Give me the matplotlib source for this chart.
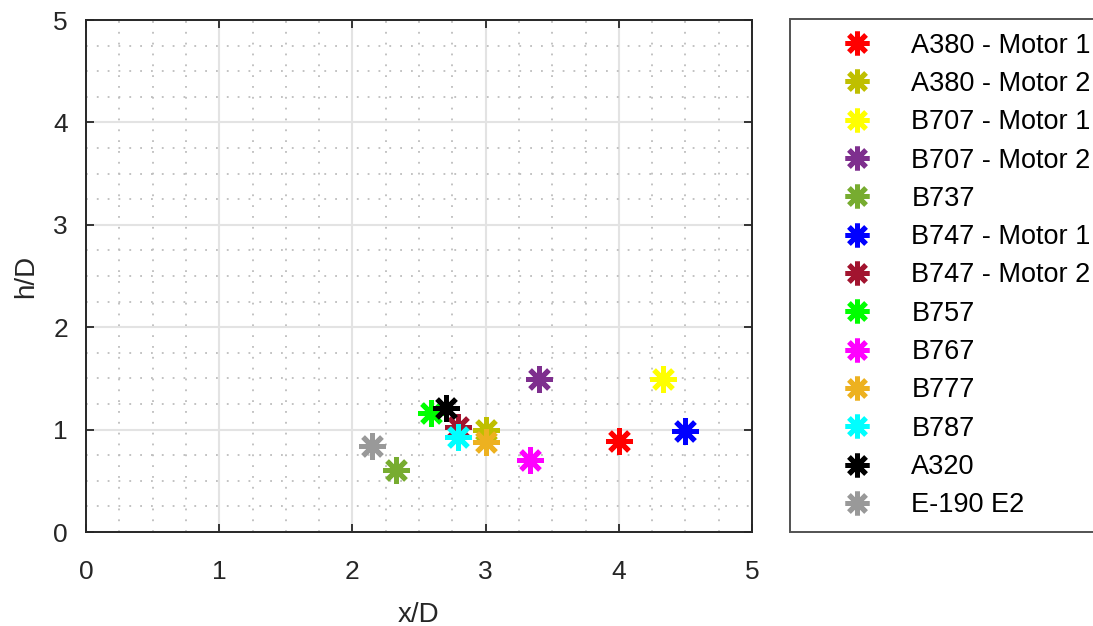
import matplotlib
matplotlib.use("Agg")
import matplotlib.pyplot as plt
from matplotlib.ticker import MultipleLocator

plt.rcParams['font.family'] = ['Liberation Sans', 'DejaVu Sans']

labels = ["A380 - Motor 1", "A380 - Motor 2", "B707 - Motor 1", "B707 - Motor 2",
          "B737", "B747 - Motor 1", "B747 - Motor 2", "B757", "B767", "B777",
          "B787", "A320", "E-190 E2"]
x_vals = [4.00, 3.00, 4.33, 3.40, 2.33, 4.50, 2.79, 2.59, 3.33, 3.00, 2.79, 2.70, 2.15]
h_vals = [0.89, 1.00, 1.49, 1.49, 0.61, 0.99, 1.03, 1.16, 0.70, 0.88, 0.93, 1.21, 0.84]
colors = ["#ff0000", "#bfbf00", "#ffff00", "#7e2f8e", "#77ac30", "#0000ff",
          "#a2142f", "#00ff00", "#ff00ff", "#edb120", "#00ffff", "#000000", "#999999"]

fig = plt.figure(figsize=(10.93, 6.26), dpi=100)
ax = fig.add_axes([86/1093, 1-532/626, (752-86)/1093, (532-20)/626])

for xv, hv, c, lab in zip(x_vals, h_vals, colors, labels):
    ax.plot([xv], [hv], linestyle='none', marker=(8, 2, 0), markersize=19,
            markeredgewidth=3.6, color=c, markeredgecolor=c, label=lab)

ax.set_xlim(0, 5)
ax.set_ylim(0, 5)
ax.xaxis.set_major_locator(MultipleLocator(1))
ax.yaxis.set_major_locator(MultipleLocator(1))
ax.xaxis.set_minor_locator(MultipleLocator(0.25))
ax.yaxis.set_minor_locator(MultipleLocator(0.25))
ax.grid(which='major', color='#e3e3e3', linewidth=1.5)
ax.grid(which='minor', color='#bdbdbd', linestyle=(0, (1, 5)), linewidth=1.3)
ax.set_axisbelow(True)
ax.tick_params(which='major', direction='in', length=6, width=1.3, top=True, right=True,
               labelsize=19, colors='#262626')
ax.tick_params(axis='x', which='major', pad=20)
ax.tick_params(axis='y', which='major', pad=13)
ax.tick_params(which='minor', length=0, top=True, right=True)
for s in ax.spines.values():
    s.set_color('#262626')
    s.set_linewidth(1.4)

ax.set_xlabel("x/D", fontsize=20, color='#262626', labelpad=13)
ax.set_ylabel("h/D", fontsize=20, color='#262626', labelpad=10)

leg = fig.legend(loc='upper left', bbox_to_anchor=(790/1093, 1-19/626),
                 fontsize=19.5, frameon=True, fancybox=False, borderpad=0.5,
                 labelspacing=0.455, handletextpad=0.03, borderaxespad=0,
                 handlelength=3.95, markerscale=0.9)
leg.get_frame().set_edgecolor('#262626')
leg.get_frame().set_linewidth(1.4)

fig.savefig("out.png", dpi=100)
